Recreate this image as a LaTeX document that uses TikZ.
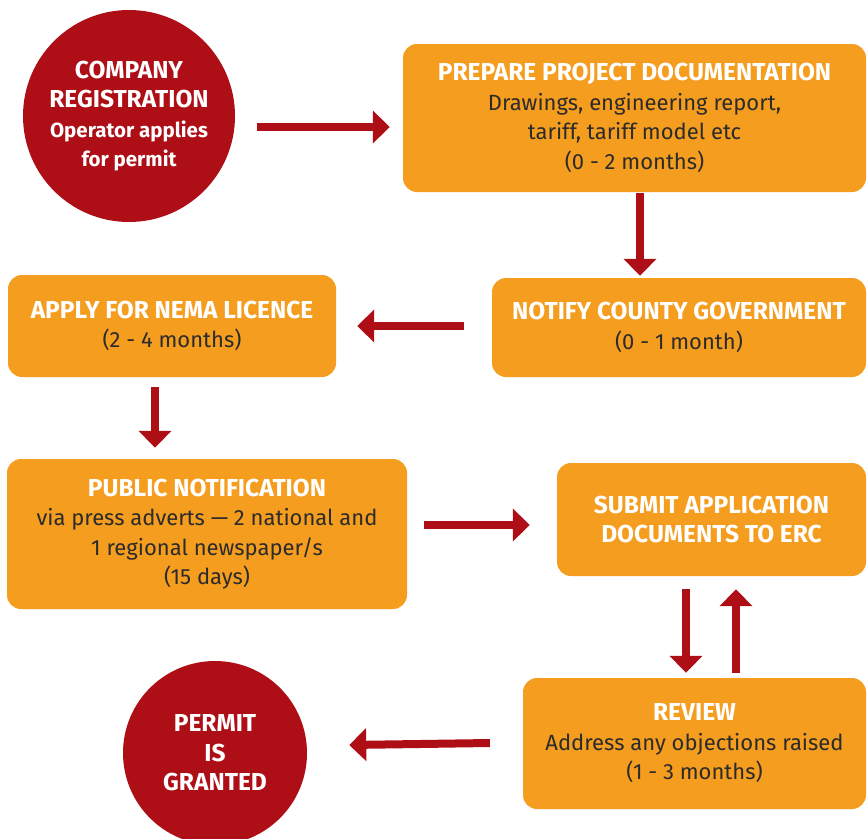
\documentclass[tikz,border=0pt]{standalone}
\usepackage{fontspec}
\setmainfont{Fira Sans}
\usepackage{xcolor}
\usepackage{tikz}
\usetikzlibrary{arrows.meta}

\definecolor{boxorange}{HTML}{F59D1E}
\definecolor{permitred}{HTML}{AE0E16}
\definecolor{textgray}{HTML}{2B2B2B}

\newcommand{\boxhead}[1]{\textcolor{white}{\bfseries\fontsize{24.5}{29.5}\selectfont #1}}

\tikzset{
    stepbox/.style={fill=boxorange, rounded corners=14pt, align=center, text=textgray,
        inner sep=0pt, font=\fontsize{22}{29.5}\selectfont},
    endcircle/.style={circle, fill=permitred, text=white, align=center, inner sep=0pt,
        font=\bfseries\fontsize{24.5}{29.5}\selectfont},
    flow/.style={draw=permitred, line width=8pt, -{Triangle[width=32pt,length=17pt]}}
}

\begin{document}
\begin{tikzpicture}[x=1pt,y=-1pt]
    \useasboundingbox (0,0) rectangle (867,838);
    % start and end
    \node[endcircle, minimum size=212pt] (reg) at (129,116)
        {COMPANY\\REGISTRATION\\{\fontsize{20.5}{29.5}\selectfont Operator applies}\\
         {\fontsize{20.5}{29.5}\selectfont for permit}};
    \node[endcircle, minimum size=184pt] (granted) at (215,753)
        {PERMIT\\IS\\GRANTED};
    % steps
    \node[stepbox, minimum width=463pt, minimum height=148pt] (prep) at (634.5,118)
        {\boxhead{PREPARE PROJECT DOCUMENTATION}\\
         Drawings, engineering report,\\tariff, tariff model etc\\(0 - 2 months)};
    \node[stepbox, minimum width=374pt, minimum height=99pt] (notify) at (679,327.5)
        {\boxhead{NOTIFY COUNTY GOVERNMENT}\\(0 - 1 month)};
    \node[stepbox, minimum width=328pt, minimum height=102pt] (nema) at (172,326)
        {\boxhead{APPLY FOR NEMA LICENCE}\\(2 - 4 months)};
    \node[stepbox, minimum width=400pt, minimum height=150pt] (public) at (207,534)
        {\boxhead{PUBLIC NOTIFICATION}\\
         via press adverts — 2 national and\\1 regional newspaper/s\\(15 days)};
    \node[stepbox, minimum width=309pt, minimum height=113pt] (submit) at (711.5,519.5)
        {\boxhead{SUBMIT APPLICATION}\\\boxhead{DOCUMENTS TO ERC}};
    \node[stepbox, minimum width=343pt, minimum height=131pt] (review) at (694.5,743.5)
        {\boxhead{REVIEW}\\
         Address any objections raised\\(1 - 3 months)};
    % arrows
    \draw[flow] ([shift={(22,11)}]reg.east) -- ([shift={(-13,9)}]prep.west);
    \draw[flow] ([shift={(5.5,1)}]prep.south) -- ([shift={(-39,-2)}]notify.north);
    \draw[flow] ([shift={(-28,-1.5)}]notify.west) -- ([shift={(21,0)}]nema.east);
    \draw[flow] ([shift={(-17,10)}]nema.south) -- ([shift={(-52,-11)}]public.north);
    \draw[flow] ([shift={(17,-9)}]public.east) -- ([shift={(-27,5.5)}]submit.west);
    \draw[flow] ([shift={(-25.5,13)}]submit.south) -- ([shift={(-8.5,-5)}]review.north);
    \draw[flow] ([shift={(41.5,-5)}]review.north) -- ([shift={(24.5,13)}]submit.south);
    \draw[flow] ([shift={(-33,-0.5)}]review.west) -- ([shift={(42,-8)}]granted.east);
\end{tikzpicture}
\end{document}
